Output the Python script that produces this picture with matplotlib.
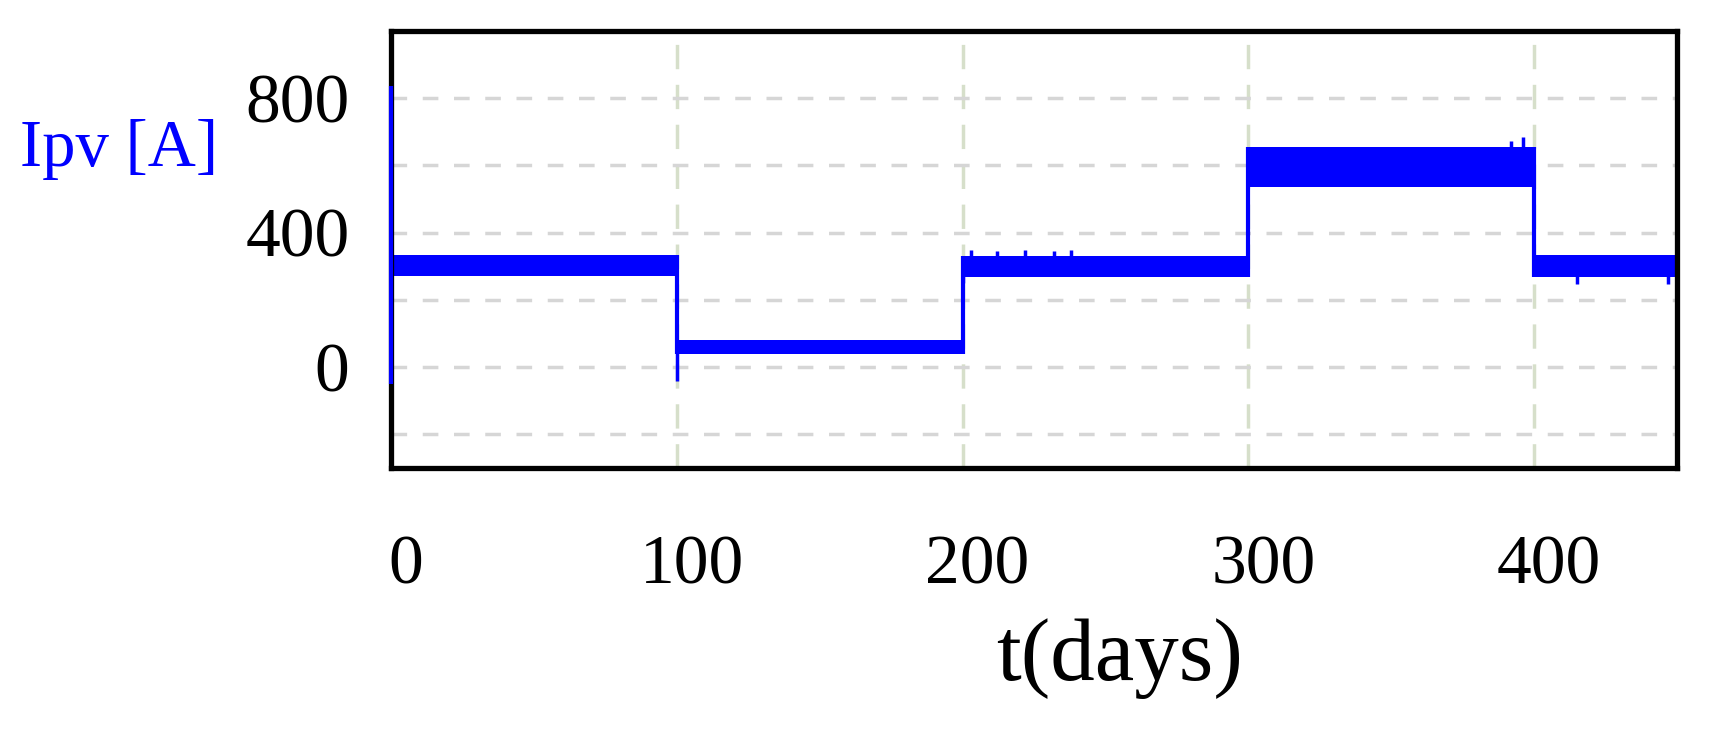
#!/usr/bin/env python3
"""Corrente do painel PV (Ipv) ao longo do tempo, em degraus de irradiância."""
import matplotlib
matplotlib.use("Agg")
import matplotlib.pyplot as plt
import matplotlib.transforms as mtransforms
import numpy as np
from matplotlib.ticker import MultipleLocator

# envelope da corrente por trecho (min / max da oscilação)
seg_t = [0, 100, 200, 300, 400, 450]
seg_lo = [270, 40, 268, 537, 267]
seg_hi = [335, 82, 332, 655, 335]

# picos isolados (instante, valor extremo)
spike_t = [0, 0, 100, 200, 203, 212, 222, 232, 238, 392, 396, 415, 447]
spike_v = [835, -50, -40, 250, 348, 345, 348, 345, 348, 672, 684, 248, 248]

x_ticks = [0, 100, 200, 300, 400]
y_ticks = [0, 400, 800]

BLUE = "#0000ff"
SERIF = ["Liberation Serif", "DejaVu Serif"]


def band_mid(t):
    i = np.searchsorted(seg_t, t, side="right") - 1
    i = min(max(i, 0), len(seg_lo) - 1)
    return (seg_lo[i] + seg_hi[i]) / 2


def main():
    fig = plt.figure(figsize=(17.13, 7.42), dpi=100)
    ax = fig.add_axes([0.2283, 0.3693, 0.7507, 0.589])

    lo = seg_lo + [seg_lo[-1]]
    hi = seg_hi + [seg_hi[-1]]
    ax.fill_between(seg_t, lo, hi, step="post", color=BLUE, lw=0, zorder=3)

    # ligações verticais entre os degraus
    for i in range(1, len(seg_lo)):
        ymin = min(seg_lo[i - 1], seg_lo[i])
        ymax = max(seg_hi[i - 1], seg_hi[i])
        ax.vlines(seg_t[i], ymin, ymax, color=BLUE, lw=3, zorder=3)

    for t, v in zip(spike_t, spike_v):
        ax.vlines(t, min(v, band_mid(t)), max(v, band_mid(t)), color=BLUE,
                  lw=3 if t == 0 else 2.5, zorder=7, clip_on=False)

    ax.set_xlim(0, 450)
    ax.set_ylim(-300, 1000)
    ax.set_xticks(x_ticks)
    ax.set_yticks(y_ticks)
    ax.yaxis.set_minor_locator(MultipleLocator(200))

    ax.grid(True, axis="y", which="both", color="#d6d6d6", lw=2.5, ls=(0, (4.5, 4.5)), zorder=1)
    ax.grid(True, axis="x", which="major", color="#d6dfca", lw=2.5, ls=(0, (7, 4.5)), zorder=1)

    ax.tick_params(axis="both", which="both", length=0)
    ax.tick_params(axis="x", pad=48)
    ax.tick_params(axis="y", pad=30)
    shift = mtransforms.ScaledTranslation(15 / 100, 0, fig.dpi_scale_trans)
    for lab in ax.get_xticklabels():
        lab.set_transform(lab.get_transform() + shift)
    for lab in ax.get_xticklabels() + ax.get_yticklabels():
        lab.set_family(SERIF)
        lab.set_fontsize(50)
    for sp in ax.spines.values():
        sp.set_linewidth(3.8)
        sp.set_color("black")
        sp.set_zorder(5)

    fig.text(218 / 1713, 1 - 149 / 742, "Ipv [A]", ha="right", va="center",
             color=BLUE, family=SERIF, fontsize=48)
    fig.text(1120 / 1713, 0.112, "t(days)", ha="center", va="center",
             color="black", family=SERIF, fontsize=64)

    fig.savefig("out.png", dpi=100)
    plt.close(fig)


if __name__ == "__main__":
    main()
